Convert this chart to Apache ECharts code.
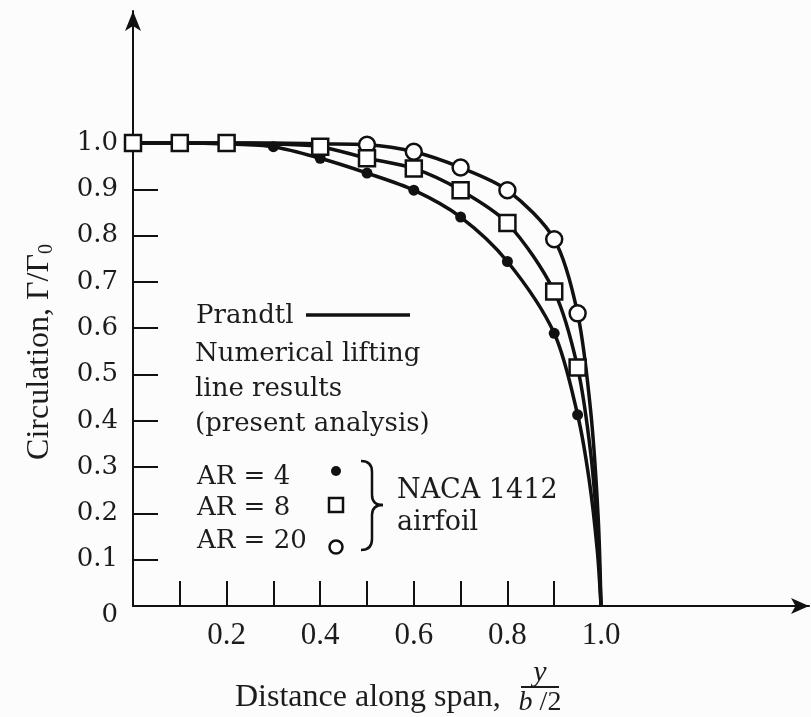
<!DOCTYPE html>
<html>
<head>
<meta charset="utf-8">
<script src="https://cdn.jsdelivr.net/npm/echarts@6/dist/echarts.min.js"></script>
<style>
html,body{margin:0;padding:0;background:#fcfcfc;}
#main{width:811px;height:717px;}
</style>
</head>
<body>
<div id="main"></div>
<script>
// tick positions and labels
var xTicks = [0.1, 0.2, 0.3, 0.4, 0.5, 0.6, 0.7, 0.8, 0.9];
var xLabels = [0.2, 0.4, 0.6, 0.8, 1.0];
var yTicks = [0.1, 0.2, 0.3, 0.4, 0.5, 0.6, 0.7, 0.8, 0.9];
var yLabels = [0, 0.1, 0.2, 0.3, 0.4, 0.5, 0.6, 0.7, 0.8, 0.9, 1.0];

// Prandtl curves
var prandtl4 = [[0, 1], [0.1, 1], [0.2, 0.998], [0.3, 0.992], [0.4, 0.967], [0.5, 0.935], [0.6, 0.898], [0.7, 0.84], [0.8, 0.744], [0.9, 0.589], [0.95, 0.413], [0.975, 0.27], [0.992, 0.12], [1, 0]];
var prandtl8 = [[0, 1], [0.1, 1], [0.2, 1], [0.3, 0.998], [0.4, 0.992], [0.5, 0.967], [0.6, 0.945], [0.7, 0.898], [0.8, 0.827], [0.9, 0.679], [0.95, 0.515], [0.978, 0.33], [0.993, 0.15], [1, 0]];
var prandtl20 = [[0, 1], [0.1, 1], [0.2, 1], [0.3, 1], [0.4, 0.998], [0.5, 0.996], [0.6, 0.981], [0.7, 0.947], [0.8, 0.898], [0.9, 0.792], [0.95, 0.632], [0.978, 0.42], [0.994, 0.19], [1, 0]];

// numerical lifting line results (markers)
var ar4 = [[0.3, 0.992], [0.4, 0.967], [0.5, 0.935], [0.6, 0.898], [0.7, 0.84], [0.8, 0.744], [0.9, 0.589], [0.95, 0.413]];
var ar8 = [[0, 1], [0.1, 1], [0.2, 1], [0.4, 0.992], [0.5, 0.967], [0.6, 0.945], [0.7, 0.898], [0.8, 0.827], [0.9, 0.679], [0.95, 0.515]];
var ar20 = [[0.5, 0.996], [0.6, 0.981], [0.7, 0.947], [0.8, 0.898], [0.9, 0.792], [0.95, 0.632]];

var ink = '#111';
var serif = 'Liberation Serif';
var legendFont = 'DejaVu Serif';

var myChart = echarts.init(document.getElementById('main'));

function lineSeries(data)
{
	return {
		type: 'line',
		data: data,
		smooth: 0.3,
		symbol: 'none',
		silent: true,
		z: 2,
		lineStyle: { color: ink, width: 3.5 }
	};
}

// plain text helper for the legend and axis titles
function label(text, x, y, font)
{
	return {
		type: 'text', x: x, y: y,
		style: { text: text, font: font, fill: '#1c1c1c', align: 'left', verticalAlign: 'middle' }
	};
}

// one quarter of the curly brace
function curve(x1, y1, cx, cy, x2, y2)
{
	return {
		type: 'bezierCurve',
		shape: { x1: x1, y1: y1, cpx1: cx, cpy1: cy, x2: x2, y2: y2 },
		style: { fill: null, stroke: ink, lineWidth: 2.5 }
	};
}

var option = {
	backgroundColor: '#fcfcfc',
	animation: false,
	grid: { left: 133, right: 2, top: 11, bottom: 111 },
	xAxis: {
		type: 'value',
		min: 0,
		max: 1.4444,
		splitLine: { show: false },
		axisLine: {
			lineStyle: { color: ink, width: 2 },
			symbol: ['none', 'arrow'],
			symbolSize: [12, 18]
		},
		axisTick: {
			inside: true,
			length: 25,
			customValues: xTicks,
			lineStyle: { color: ink, width: 2 }
		},
		axisLabel: {
			customValues: xLabels,
			margin: 14,
			fontFamily: serif,
			fontSize: 31,
			color: '#1c1c1c',
			formatter: function (v) { return v.toFixed(1); }
		}
	},
	yAxis: {
		type: 'value',
		min: 0,
		max: 1.285,
		splitLine: { show: false },
		axisLine: {
			lineStyle: { color: ink, width: 2 },
			symbol: ['none', 'arrow'],
			symbolSize: [12, 20]
		},
		axisTick: {
			inside: true,
			length: 25,
			customValues: yTicks,
			lineStyle: { color: ink, width: 2 }
		},
		axisLabel: {
			customValues: yLabels,
			margin: 15,
			fontFamily: legendFont,
			fontSize: 26,
			color: '#1c1c1c',
			formatter: function (v) { return v === 0 ? '{z|0}' : v.toFixed(1); },
			rich: { z: { fontFamily: legendFont, fontSize: 26, color: '#1c1c1c', padding: [18, 0, 0, 0] } }
		}
	},
	series: [
		lineSeries(prandtl4),
		lineSeries(prandtl8),
		lineSeries(prandtl20),
		{
			type: 'scatter', data: ar4, symbol: 'circle', symbolSize: 11, z: 3,
			itemStyle: { color: ink, opacity: 1 }
		},
		{
			type: 'scatter', data: ar20, symbol: 'circle', symbolSize: 16, z: 4,
			itemStyle: { color: '#fff', borderColor: ink, borderWidth: 2.5, opacity: 1 }
		},
		{
			type: 'scatter', data: ar8, symbol: 'rect', symbolSize: 16, z: 5,
			itemStyle: { color: '#fff', borderColor: ink, borderWidth: 2.5, opacity: 1 }
		}
	],
	graphic: [
		// y axis title
		{
			type: 'text', x: 40, y: 352, rotation: Math.PI / 2,
			style: {
				text: '{a|Circulation, Γ/Γ}{s|0}',
				align: 'center', verticalAlign: 'middle',
				rich: {
					a: { fontFamily: serif, fontSize: 32, fill: '#1c1c1c' },
					s: { fontFamily: serif, fontSize: 20, fill: '#1c1c1c', padding: [14, 0, 0, 0] }
				}
			}
		},
		// x axis title
		label('Distance along span,', 235, 698, '32px ' + serif),
		{
			type: 'text', x: 540, y: 673,
			style: { text: 'y', font: 'italic 30px ' + serif, fill: '#1c1c1c', align: 'center', verticalAlign: 'middle' }
		},
		{
			type: 'line', shape: { x1: 521, y1: 687, x2: 559, y2: 687 },
			style: { stroke: '#1c1c1c', lineWidth: 2 }
		},
		{
			type: 'text', x: 540, y: 703,
			style: { text: '{i|b} /2', font: '28px ' + serif, fill: '#1c1c1c', align: 'center', verticalAlign: 'middle',
				rich: { i: { font: 'italic 28px ' + serif, fill: '#1c1c1c' } } }
		},
		// legend
		label('Prandtl', 196, 316, '26px ' + legendFont),
		{
			type: 'line', shape: { x1: 306, y1: 315, x2: 410, y2: 315 },
			style: { stroke: ink, lineWidth: 3.5 }
		},
		label('Numerical lifting', 195, 354, '26px ' + legendFont),
		label('line results', 195, 389, '26px ' + legendFont),
		label('(present analysis)', 195, 424, '26px ' + legendFont),
		label('AR = 4', 197, 477, '26px ' + legendFont),
		label('AR = 8', 197, 508, '26px ' + legendFont),
		label('AR = 20', 197, 541, '26px ' + legendFont),
		{ type: 'circle', shape: { cx: 336, cy: 471, r: 5 }, style: { fill: ink } },
		{ type: 'rect', shape: { x: 329, y: 498, width: 14, height: 14 }, style: { fill: '#fff', stroke: ink, lineWidth: 2.5 } },
		{ type: 'circle', shape: { cx: 336, cy: 547, r: 6.5 }, style: { fill: '#fff', stroke: ink, lineWidth: 2.5 } },
		curve(361, 461, 372, 461, 372, 472),
		{ type: 'line', shape: { x1: 372, y1: 472, x2: 372, y2: 495 }, style: { stroke: ink, lineWidth: 2.5 } },
		curve(372, 495, 372, 505, 383, 505),
		curve(383, 505, 372, 505, 372, 515),
		{ type: 'line', shape: { x1: 372, y1: 515, x2: 372, y2: 539 }, style: { stroke: ink, lineWidth: 2.5 } },
		curve(372, 539, 372, 550, 361, 550),
		label('NACA 1412', 397, 491, '27px ' + legendFont),
		label('airfoil', 397, 523, '27px ' + legendFont)
	]
};

myChart.setOption(option);
</script>
</body>
</html>
